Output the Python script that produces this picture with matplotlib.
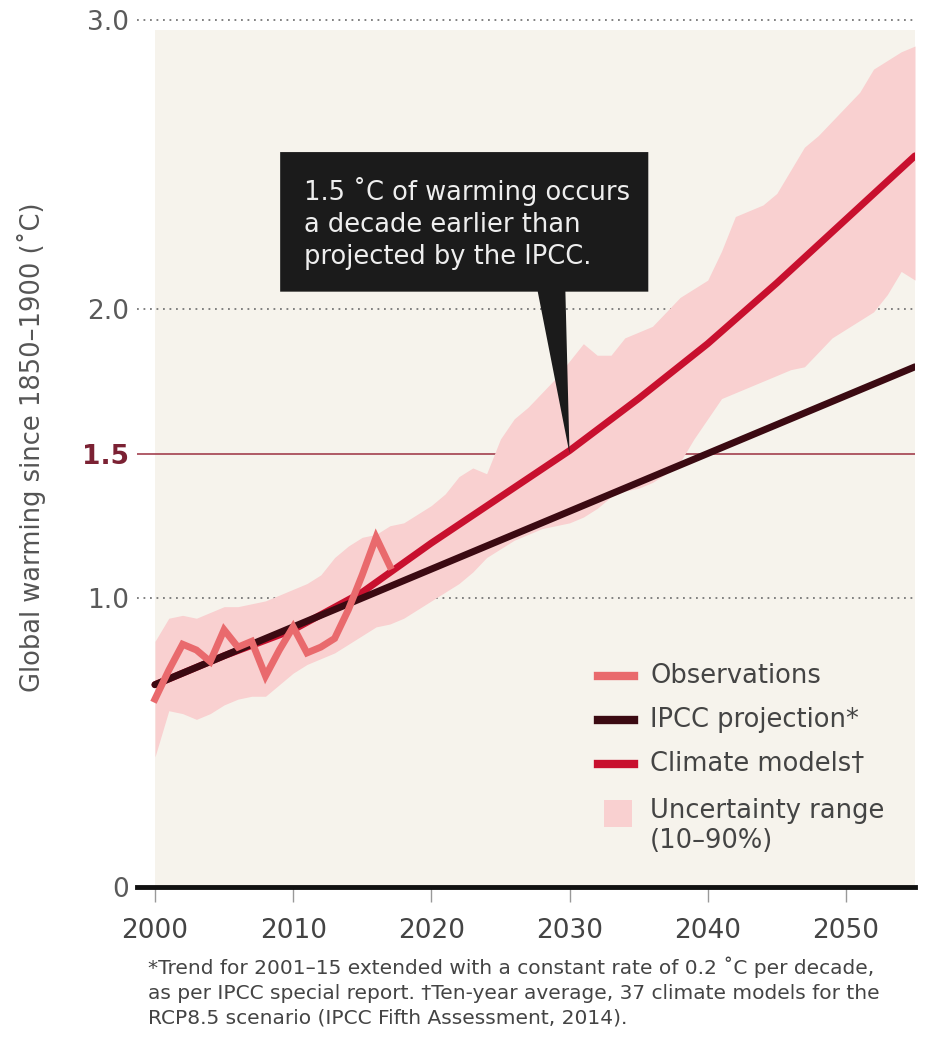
import matplotlib
matplotlib.use('Agg')
import matplotlib.pyplot as plt
import numpy as np
from matplotlib.lines import Line2D
from matplotlib.patches import Rectangle, Polygon

# observations (annual)
obs_years = list(range(2000, 2018))
obs_vals = [0.65, 0.75, 0.84, 0.82, 0.78, 0.89, 0.83, 0.85, 0.73, 0.82,
            0.90, 0.81, 0.83, 0.86, 0.96, 1.08, 1.21, 1.11]

# IPCC projection: straight trend, 0.2 C per decade
ipcc_years = [2000, 2055]
ipcc_vals = [0.70, 1.80]

# climate models (ten-year average)
model_years = [2000, 2005, 2010, 2015, 2020, 2025, 2030, 2035, 2040, 2045, 2050, 2055]
model_vals = [0.70, 0.80, 0.89, 1.02, 1.19, 1.35, 1.51, 1.69, 1.88, 2.09, 2.31, 2.53]

# uncertainty band (10-90%)
band_years = list(range(2000, 2056))
band_low = [0.45, 0.61, 0.60, 0.58, 0.60, 0.63, 0.65, 0.66, 0.66, 0.70,
            0.74, 0.77, 0.79, 0.81, 0.84, 0.87, 0.90, 0.91, 0.93, 0.96,
            0.99, 1.02, 1.05, 1.09, 1.14, 1.17, 1.20, 1.22, 1.24, 1.25,
            1.26, 1.28, 1.31, 1.35, 1.37, 1.38, 1.40, 1.43, 1.47, 1.55,
            1.62, 1.69, 1.71, 1.73, 1.75, 1.77, 1.79, 1.80, 1.85, 1.90,
            1.93, 1.96, 1.99, 2.05, 2.13, 2.10]
band_high = [0.85, 0.93, 0.94, 0.93, 0.95, 0.97, 0.97, 0.98, 0.99, 1.01,
             1.03, 1.05, 1.08, 1.14, 1.18, 1.21, 1.22, 1.25, 1.26, 1.29,
             1.32, 1.36, 1.42, 1.45, 1.43, 1.55, 1.62, 1.66, 1.71, 1.76,
             1.82, 1.88, 1.84, 1.84, 1.90, 1.92, 1.94, 1.99, 2.04, 2.07,
             2.10, 2.20, 2.32, 2.34, 2.36, 2.40, 2.48, 2.56, 2.60, 2.65,
             2.70, 2.75, 2.83, 2.86, 2.89, 2.91]

threshold = 1.5
cross_year = 2030
x_ticks = [2000, 2010, 2020, 2030, 2040, 2050]

c_obs = '#e96a6d'
c_ipcc = '#3b0a12'
c_model = '#c8102e'
c_band = '#f9d0d0'
c_bg = '#f6f3ec'
c_text = '#444444'

W, H = 925, 1038
fig = plt.figure(figsize=(W / 100, H / 100), dpi=100)
ax = fig.add_axes([137 / W, 1 - 887 / H, 778 / W, 867 / H])
ax.set_xlim(1998.7, 2055)
ax.set_ylim(0, 3.0)

ax.axvspan(2000, 2055, ymin=0, ymax=0.988, color=c_bg, lw=0, zorder=0)

for g in [1.0, 2.0, 3.0]:
    ax.axhline(g, color='#777777', lw=1.3, ls=(0, (1, 2.6)), zorder=1, clip_on=False)
ax.axhline(threshold, color='#9b3040', lw=1.1, zorder=1)

ax.fill_between(band_years, band_low, band_high, color=c_band, lw=0, zorder=2)
ax.plot(model_years, model_vals, color=c_model, lw=5, solid_capstyle='round', zorder=3)
ax.plot(ipcc_years, ipcc_vals, color=c_ipcc, lw=5, solid_capstyle='round', zorder=4)
ax.plot(obs_years, obs_vals, color=c_obs, lw=5, solid_joinstyle='miter', zorder=5)

# bottom axis
ax.axhline(0, color='#111111', lw=3.5, zorder=6, clip_on=False)
for s in ax.spines.values():
    s.set_visible(False)

ax.set_xticks(x_ticks)
ax.set_xticklabels([str(x) for x in x_ticks])
ax.tick_params(axis='x', length=11, width=1, color='#999999', labelsize=19,
               labelcolor=c_text, pad=11)
ax.set_yticks([0, 1.0, threshold, 2.0, 3.0])
ax.set_yticklabels(['0', '1.0', '1.5', '2.0', '3.0'])
ax.tick_params(axis='y', length=0, labelsize=19, labelcolor='#5a5a5a', pad=6)
for lbl in ax.get_yticklabels():
    if lbl.get_text() == '1.5':
        lbl.set_color('#7b2133')
        lbl.set_fontweight('bold')

fig.text(32 / W, 1 - 447 / H, 'Global warming since 1850\u20131900 (\u02daC)',
         rotation=90, ha='center', va='center', fontsize=18.5, color='#555555')

# callout box with pointer
bx0, bx1, by0, by1 = 2009.06, 2035.7, 2.06, 2.543
callout = Polygon([(bx0, by1), (bx1, by1), (bx1, by0), (cross_year - 0.3, by0),
                   (cross_year, threshold), (cross_year - 2.3, by0), (bx0, by0)],
                  closed=True, facecolor='#1b1b1b', edgecolor='none', zorder=7)
ax.add_patch(callout)
ax.text(2010.8, 2.457, '1.5 \u02daC of warming occurs\na decade earlier than\nprojected by the IPCC.',
        ha='left', va='top', fontsize=18.5, color='#eeeeee', linespacing=1.3, zorder=8)

# legend, drawn by hand in figure pixels
def fx(px):
    return px / W

def fy(py):
    return 1 - py / H

leg_items = [('Observations', c_obs), ('IPCC projection*', c_ipcc),
             ('Climate models\u2020', c_model)]
for i, (name, col) in enumerate(leg_items):
    yy = 676 + i * 44
    fig.add_artist(Line2D([fx(598), fx(634)], [fy(yy), fy(yy)], color=col, lw=6))
    fig.text(fx(650), fy(yy), name, ha='left', va='center', fontsize=18.5, color=c_text)
fig.add_artist(Rectangle((fx(604), fy(827)), 28 / W, 27 / H, facecolor=c_band,
                         edgecolor='none', transform=fig.transFigure))
fig.text(fx(650), fy(826), 'Uncertainty range\n(10\u201390%)', ha='left', va='center',
         fontsize=18.5, color=c_text, linespacing=1.15)

fig.text(148 / W, 1 - 957 / H,
         '*Trend for 2001\u201315 extended with a constant rate of 0.2 \u02daC per decade,\n'
         'as per IPCC special report. \u2020Ten-year average, 37 climate models for the\n'
         'RCP8.5 scenario (IPCC Fifth Assessment, 2014).',
         ha='left', va='top', fontsize=14.5, color='#444444', linespacing=1.38)

fig.savefig('out.png', dpi=100, facecolor='white')
